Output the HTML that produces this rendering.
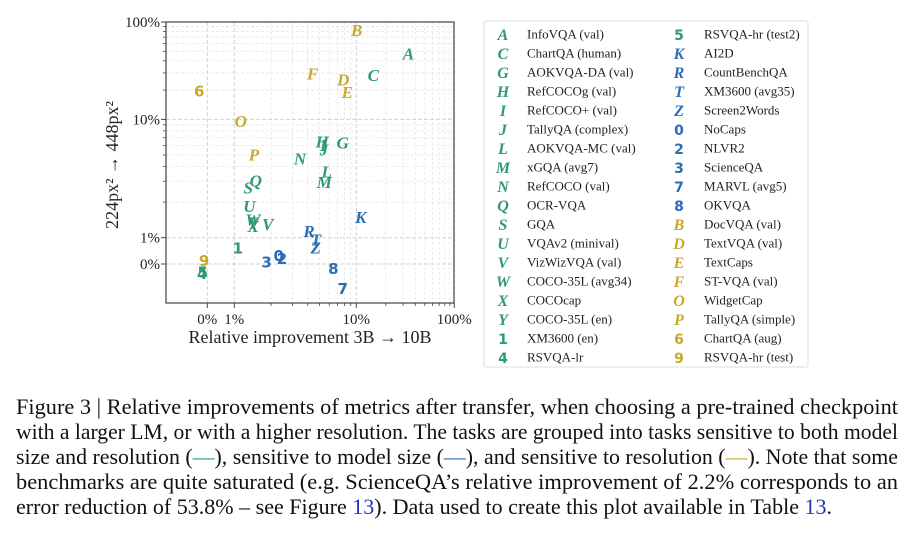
<!DOCTYPE html>
<html><head><meta charset="utf-8"><style>
body{margin:0;background:#fff;width:919px;height:539px;overflow:hidden}
svg{display:block}
.tick{font-family:"Liberation Serif",serif;font-size:15px;fill:#222}
.lt{font-family:"Liberation Serif",serif;font-size:13px;fill:#222}
.cap{font-family:"Liberation Serif",serif;font-size:22px;fill:#111}
</style></head><body>
<svg id="fig" width="919" height="539" xmlns="http://www.w3.org/2000/svg">
<g id="grid"></g>
<rect x="166" y="22" width="288" height="281" fill="none" stroke="#444" stroke-width="1.2"/>
<g id="ticks"></g>
<g id="marks"></g>
<text x="310" y="343" text-anchor="middle" style="font-family:'Liberation Serif',serif;font-size:18px;fill:#222">Relative improvement 3B → 10B</text>
<text transform="translate(118,165) rotate(-90)" text-anchor="middle" style="font-family:'Liberation Serif',serif;font-size:18px;fill:#222">224px² → 448px²</text>
<rect x="484" y="21" width="324" height="346" fill="#fff" stroke="#ddd" rx="2"/>
<g id="legend"></g>
<g>
<text class="cap" x="16" y="414" textLength="882" lengthAdjust="spacingAndGlyphs">Figure 3 | Relative improvements of metrics after transfer, when choosing a pre-trained checkpoint</text>
<text class="cap" x="16" y="439" textLength="882" lengthAdjust="spacingAndGlyphs">with a larger LM, or with a higher resolution. The tasks are grouped into tasks sensitive to both model</text>
<text class="cap" x="16" y="464" textLength="882" lengthAdjust="spacingAndGlyphs">size and resolution (<tspan fill="#2f9a70">—</tspan>), sensitive to model size (<tspan fill="#2a6db5">—</tspan>), and sensitive to resolution (<tspan fill="#c9a82a">—</tspan>). Note that some</text>
<text class="cap" x="16" y="489" textLength="882" lengthAdjust="spacingAndGlyphs">benchmarks are quite saturated (e.g. ScienceQA’s relative improvement of 2.2% corresponds to an</text>
<text class="cap" x="16" y="514" textLength="816" lengthAdjust="spacingAndGlyphs">error reduction of 53.8% – see Figure <tspan fill="#2233bb">13</tspan>). Data used to create this plot available in Table <tspan fill="#2233bb">13</tspan>.</text>
</g>
</svg>
<script>
const codes=["A","C","G","H","I","J","L","M","N","Q","S","U","V","W","X","Y","1","4","5","K","R","T","Z","0","2","3","7","8","B","D","E","F","O","P","6","9"];
const names=["InfoVQA (val)","ChartQA (human)","AOKVQA-DA (val)","RefCOCOg (val)","RefCOCO+ (val)","TallyQA (complex)","AOKVQA-MC (val)","xGQA (avg7)","RefCOCO (val)","OCR-VQA","GQA","VQAv2 (minival)","VizWizVQA (val)","COCO-35L (avg34)","COCOcap","COCO-35L (en)","XM3600 (en)","RSVQA-lr","RSVQA-hr (test2)","AI2D","CountBenchQA","XM3600 (avg35)","Screen2Words","NoCaps","NLVR2","ScienceQA","MARVL (avg5)","OKVQA","DocVQA (val)","TextVQA (val)","TextCaps","ST-VQA (val)","WidgetCap","TallyQA (simple)","ChartQA (aug)","RSVQA-hr (test)"];
const groups=["both","both","both","both","both","both","both","both","both","both","both","both","both","both","both","both","both","both","both","size","size","size","size","size","size","size","size","size","res","res","res","res","res","res","res","res"];
const xVals=[34,14.9,7.74,5.26,5.37,5.44,5.72,5.47,3.46,1.5,1.3,1.33,1.88,1.42,1.43,1.42,1.07,-0.19,-0.17,11.1,4.1,4.67,4.65,2.31,2.46,1.84,7.74,6.48,10.1,7.82,8.44,4.39,1.13,1.45,-0.3,-0.12];
const yVals=[47.7,28.6,6.4,6.48,6.08,5.59,3.61,2.97,4.69,3.03,2.65,1.85,1.3,1.43,1.26,1.34,0.635,-0.35,-0.29,1.49,1.14,0.94,0.62,0.34,0.22,0.09,-0.92,-0.16,82.8,25.8,19.2,29.7,9.7,5.07,19.7,0.15];
const xTicks=[0,1,10,100];
const xTickLabels=["0%","1%","10%","100%"];
const yTicks=[0,1,10,100];
const yTickLabels=["0%","1%","10%","100%"];
const colors={both:"#2f9a70",size:"#2a6db5",res:"#c9a82a"};
const NS="http://www.w3.org/2000/svg";
function sx(v){if(v<=1)return 207.3+27*v;if(v<=10)return 234.3+122*Math.log10(v);return 356.3+98*Math.log10(v/10);}
function sy(v){if(v<=1)return 264-26.3*v;if(v<=10)return 237.7-118.3*Math.log10(v);return 119.4-97.4*Math.log10(v/10);}
function mk(tag,at,parent){const e=document.createElementNS(NS,tag);for(const k in at)e.setAttribute(k,at[k]);parent.appendChild(e);return e;}
const grid=document.getElementById('grid'),ticks=document.getElementById('ticks'),marks=document.getElementById('marks'),legend=document.getElementById('legend');
const minors=[];for(const d of [1,10])for(let m=2;m<=9;m++)minors.push(d*m);
minors.forEach(v=>{
 let l=mk('line',{x1:sx(v),x2:sx(v),y1:22,y2:303,stroke:"#e6e6e6","stroke-dasharray":"3,2","stroke-width":0.8},grid);
 
 
 let h=mk('line',{x1:166,x2:454,y1:sy(v),y2:sy(v),stroke:"#e6e6e6","stroke-dasharray":"3,2","stroke-width":0.8},grid);
 
 
 mk('line',{x1:sx(v),x2:sx(v),y1:303,y2:306,stroke:"#444","stroke-width":0.8},ticks);
 mk('line',{x1:163,x2:166,y1:sy(v),y2:sy(v),stroke:"#444","stroke-width":0.8},ticks);
});
xTicks.forEach((v,i)=>{
 let l=mk('line',{x1:sx(v),x2:sx(v),y1:22,y2:303,stroke:"#d4d4d4","stroke-dasharray":"4,2","stroke-width":1},grid);
 
 
 mk('line',{x1:sx(v),x2:sx(v),y1:303,y2:308,stroke:"#444","stroke-width":1},ticks);
 let t=mk('text',{x:sx(v),y:324,"text-anchor":"middle",class:"tick"},ticks);
 t.textContent=xTickLabels[i];
 
 
});
yTicks.forEach((v,i)=>{
 let l=mk('line',{x1:166,x2:454,y1:sy(v),y2:sy(v),stroke:"#d4d4d4","stroke-dasharray":"4,2","stroke-width":1},grid);
 
 
 mk('line',{x1:161,x2:166,y1:sy(v),y2:sy(v),stroke:"#444","stroke-width":1},ticks);
 let t=mk('text',{x:160,y:sy(v)+5,"text-anchor":"end",class:"tick"},ticks);
 t.textContent=yTickLabels[i];
 
 
});
function glyphStyle(c,size){const digit=/[0-9]/.test(c);return digit?`font-family:'DejaVu Sans',sans-serif;font-weight:bold;font-size:${size-2}px`:`font-family:'Liberation Serif',serif;font-weight:bold;font-style:italic;font-size:${size}px`;}
codes.forEach((c,i)=>{
 let t=mk('text',{x:sx(xVals[i]),y:sy(yVals[i])+6,"text-anchor":"middle",fill:colors[groups[i]],style:glyphStyle(c,17)},marks);
 t.textContent=c;
 
 
});
codes.forEach((c,i)=>{
 const col=i<18?0:1,row=i%18;
 const mx=col?679:503,tx=col?704:527,y=34+row*19.0;
 let m=mk('text',{x:mx,y:y+6,"text-anchor":"middle",fill:colors[groups[i]],style:glyphStyle(c,16)},legend);
 m.textContent=c;
 
 
 let t=mk('text',{x:tx,y:y+4.5,class:"lt"},legend);
 t.textContent=names[i];
 
 
});
</script>
</body></html>
